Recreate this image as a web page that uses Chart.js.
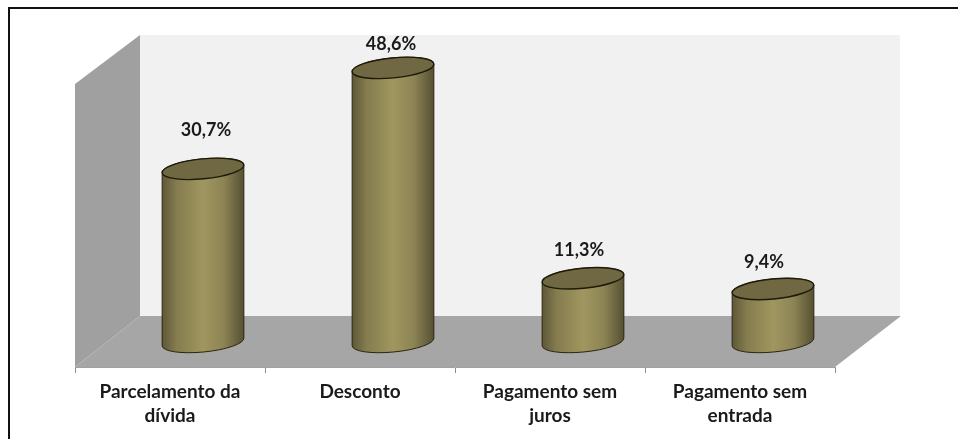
<!DOCTYPE html>
<html>
<head>
<meta charset="utf-8">
<style>
  html, body { margin: 0; background: #fff; }
  #wrap { width: 958px; height: 439px; }
</style>
<script src="https://cdn.jsdelivr.net/npm/chart.js@4/dist/chart.umd.min.js"></script>
</head>
<body>
<div id="wrap"><canvas id="chart"></canvas></div>
<script>
const categories = [['Parcelamento da', 'dívida'], 'Desconto', ['Pagamento sem', 'juros'], ['Pagamento sem', 'entrada']];
const percents = [30.7, 48.6, 11.3, 9.4];

// fake 3D: how far the back wall sits from the axis plane
const depthX = 65;
const depthY = 51;
const cylShiftX = 33;
const labelGap = [39, 24, 28, 27];
const labelNudge = [3, -2, -4, -9];

const walls = {
  id: 'walls',
  beforeDraw(chart) {
    const {ctx, chartArea: a} = chart;
    ctx.save();
    // frame, only top and left in the original
    ctx.fillStyle = '#111';
    ctx.fillRect(8, 7, 950, 2);
    ctx.fillRect(8, 7, 2, 432);
    // back wall
    ctx.fillStyle = '#f1f1f1';
    ctx.fillRect(a.left + depthX, a.top, a.right - a.left, a.bottom - depthY - a.top);
    // left wall
    ctx.fillStyle = '#a0a0a0';
    ctx.beginPath();
    ctx.moveTo(a.left, a.top + 49);
    ctx.lineTo(a.left + depthX, a.top);
    ctx.lineTo(a.left + depthX, a.bottom - depthY);
    ctx.lineTo(a.left, a.bottom);
    ctx.closePath();
    ctx.fill();
    // floor
    ctx.fillStyle = '#a6a6a6';
    ctx.beginPath();
    ctx.moveTo(a.left, a.bottom);
    ctx.lineTo(a.left + depthX, a.bottom - depthY);
    ctx.lineTo(a.right + depthX + 1, a.bottom - depthY);
    ctx.lineTo(a.right, a.bottom);
    ctx.closePath();
    ctx.fill();
    ctx.restore();
  }
};

const cylinders = {
  id: 'cylinders',
  afterDatasetsDraw(chart) {
    const {ctx} = chart;
    const rot = -5.5 * Math.PI / 180;
    chart.getDatasetMeta(0).data.forEach((bar, i) => {
      const cx = bar.x + cylShiftX;
      const rx = bar.width / 2;
      const ry = 10;
      const top = bar.y;
      const base = bar.base;

      const grad = ctx.createLinearGradient(cx - rx, 0, cx + rx, 0);
      grad.addColorStop(0, '#5e5737');
      grad.addColorStop(0.18, '#857c4f');
      grad.addColorStop(0.5, '#a0965f');
      grad.addColorStop(0.75, '#8d8455');
      grad.addColorStop(1, '#565032');

      ctx.save();
      ctx.beginPath();
      ctx.ellipse(cx, base, rx, ry, rot, 0, Math.PI);
      ctx.ellipse(cx, top, rx, ry, rot, Math.PI, 2 * Math.PI);
      ctx.closePath();
      ctx.fillStyle = grad;
      ctx.fill();
      ctx.lineWidth = 1;
      ctx.strokeStyle = '#2a2512';
      ctx.stroke();

      ctx.beginPath();
      ctx.ellipse(cx, top, rx, ry, rot, 0, 2 * Math.PI);
      ctx.fillStyle = '#6f6842';
      ctx.fill();
      ctx.lineWidth = 1.4;
      ctx.strokeStyle = '#1e1a08';
      ctx.stroke();

      ctx.fillStyle = '#1a1a1a';
      ctx.font = 'bold 18px Lato';
      ctx.textAlign = 'center';
      ctx.textBaseline = 'middle';
      ctx.fillText(percents[i].toFixed(1).replace('.', ',') + '%', cx + labelNudge[i], top - labelGap[i]);
      ctx.restore();
    });
  }
};

new Chart(document.getElementById('chart'), {
  type: 'bar',
  data: {
    labels: categories,
    datasets: [{
      data: percents,
      backgroundColor: 'rgba(0,0,0,0)',
      categoryPercentage: 1,
      barPercentage: 0.432
    }]
  },
  options: {
    responsive: true,
    maintainAspectRatio: false,
    animation: false,
    layout: {padding: {left: 75, right: 123, top: 35, bottom: 0}},
    plugins: {legend: {display: false}, tooltip: {enabled: false}},
    scales: {
      x: {
        afterFit(scale) { scale.height = 72; },
        border: {color: '#a0a0a0'},
        grid: {drawOnChartArea: false, color: '#8c8c8c', tickLength: 6},
        ticks: {color: '#1a1a1a', maxRotation: 0, autoSkip: false, padding: 7, font: {family: 'Lato', weight: 'bold', size: 19, lineHeight: 1.26}}
      },
      y: {display: false, min: -4.43, max: 54.43}
    }
  },
  plugins: [walls, cylinders]
});
</script>
</body>
</html>
